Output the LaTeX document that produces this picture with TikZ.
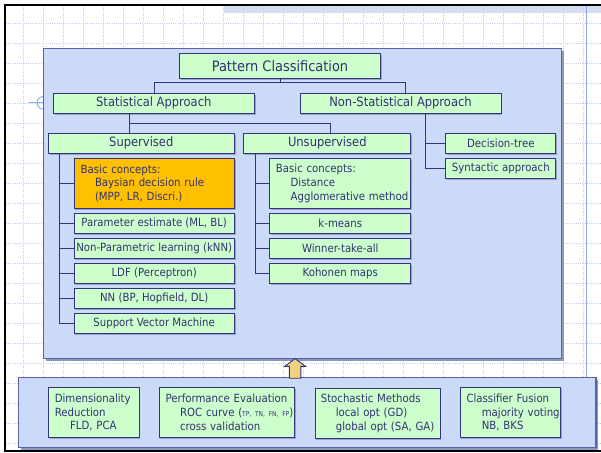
\documentclass[tikz,border=0pt]{standalone}
\usepackage{fontspec}
\setmainfont{DejaVu Sans Condensed}
\usetikzlibrary{calc,shadows}
\definecolor{navy}{RGB}{51,51,128}
\definecolor{txt}{RGB}{50,50,112}
\definecolor{panel}{RGB}{204,218,250}
\definecolor{panelborder}{RGB}{90,100,165}
\definecolor{panelshadow}{RGB}{140,150,190}
\definecolor{boxgreen}{RGB}{204,255,204}
\definecolor{orangebox}{RGB}{255,192,0}
\definecolor{gridc}{RGB}{190,204,240}
\definecolor{selblue}{RGB}{140,165,235}
\definecolor{stripc}{RGB}{214,222,242}
\definecolor{arrowfill}{RGB}{238,210,128}
\newcommand{\ind}[2][14.5pt]{\mbox{\hspace*{#1}#2}}
\tikzset{
  box/.style={draw=navy, line width=1pt, fill=boxgreen, text=txt, inner sep=0pt,
    minimum height=20pt, font=\fontsize{11.3}{13.8}\selectfont,
    drop shadow={shadow xshift=1.2pt, shadow yshift=-1.2pt, fill=panelshadow, opacity=0.8}},
  midfont/.style={font=\fontsize{12.8}{15}\selectfont},
  multibox/.style={align=left},
  conn/.style={draw=navy, line width=1pt},
  gridline/.style={draw=gridc, line width=0.6pt, dash pattern=on 1pt off 1.2pt},
  panelbox/.style={draw=panelborder, line width=1.2pt, fill=panel},
}
\begin{document}
\begin{tikzpicture}[x=1pt,y=-1pt]
\useasboundingbox (0,0) rectangle (601,452);
\fill[white] (0,0) rectangle (601,452);
% top strip
\fill[stripc] (224,6) rectangle (601,13.5);
% grid
\foreach \x in {23,43,...,583} \draw[gridline] (\x,6) -- (\x,450);
\foreach \y in {23,43,...,443} \draw[gridline] (6,\y) -- (601,\y);
\draw[selblue, line width=1pt] (586.5,6) -- (586.5,450);
% frame
\draw[black, line width=2pt] (5,452) -- (5,5) -- (601,5);
\draw[black, line width=2pt] (4,450.5) -- (601,450.5);
% selection marker
\draw[selblue, line width=0.9pt] (29,102.8) -- (43.3,102.8);
\draw[selblue, line width=0.9pt] (43.3,96.5) arc[start angle=90, end angle=270, radius=6.3pt];

% panels
\fill[panelshadow] (45.5,50.5) rectangle (563.5,360.5);
\draw[panelbox] (43.3,48.3) rectangle (561.5,358.3);
\fill[panelshadow] (20.5,380) rectangle (598,449.5);
\draw[panelbox] (18.4,377.7) rectangle (596,447.3);

% arrow
\draw[navy, line width=0.9pt, fill=arrowfill, line join=miter]
  (295,358.6) -- (305.5,366.3) -- (300.9,366.3) -- (300.9,378.2) -- (289.4,378.2)
  -- (289.4,366.3) -- (284.7,366.3) -- cycle;

% top levels
\node[box, minimum width=201.4pt, minimum height=25pt, font=\fontsize{14.4}{17}\selectfont] (pc) at (280,65.8) {Pattern Classification};
\node[box, midfont, minimum width=201pt] (sa) at (153.8,103.3) {Statistical Approach};
\node[box, midfont, minimum width=201pt] (nsa) at (400.5,103.3) {Non-Statistical Approach};
\node[box, midfont, minimum width=186pt] (sup) at (141.3,143.3) {Supervised};
\node[box, midfont, minimum width=166.7pt] (uns) at (327.3,143.3) {Unsupervised};
\node[box, minimum width=110.3pt] (dt) at (500.8,143.3) {Decision-tree};
\node[box, minimum width=110.3pt] (syn) at (500.8,168.3) {Syntactic approach};

% supervised
\node[box, fill=orangebox, minimum height=50pt, multibox, text width=147pt, inner xsep=6.7pt] (bc1) at (154.2,183.3)
  {\mbox{Basic concepts:}\\\ind[14.3pt]{Baysian decision rule}\\\ind[14.3pt]{(MPP, LR, Discri.)}};
\node[box, minimum width=160.3pt] (pe) at (154.2,223.3) {Parameter estimate (ML, BL)};
\node[box, minimum width=160.3pt] (np) at (154.2,248.3) {Non-Parametric learning (kNN)};
\node[box, minimum width=160.3pt] (ldf) at (154.2,273.3) {LDF (Perceptron)};
\node[box, minimum width=160.3pt] (nn) at (154.2,298.3) {NN (BP, Hopfield, DL)};
\node[box, minimum width=160.3pt] (svm) at (154.2,323.3) {Support Vector Machine};

% unsupervised
\node[box, minimum height=50pt, multibox, text width=128.7pt, inner xsep=6pt] (bc2) at (340.3,183.3)
  {\mbox{Basic concepts:}\\\ind[14.7pt]{Distance}\\\ind[14.7pt]{Agglomerative method}};
\node[box, minimum width=140.7pt] (km) at (340.3,223.3) {k-means};
\node[box, minimum width=140.7pt] (wta) at (340.3,248.3) {Winner-take-all};
\node[box, minimum width=140.7pt] (koh) at (340.3,273.3) {Kohonen maps};

% bottom boxes
\node[box, minimum height=49.6pt, multibox, text width=78.2pt, inner xsep=6.1pt] (dim) at (93.9,412.5)
  {\mbox{Dimensionality}\\\mbox{Reduction}\\\ind[15.3pt]{FLD, PCA}};
\node[box, minimum height=49.6pt, multibox, text width=122.6pt, inner xsep=6.6pt] (perf) at (226.9,412.5)
  {\mbox{Performance Evaluation}\\\ind[14.5pt]{ROC curve ({\fontsize{6.6}{8}\selectfont TP, TN, FN, FP})}\\\ind[14.5pt]{cross validation}};
\node[box, minimum height=50pt, multibox, text width=113.4pt, inner xsep=5.8pt] (sto) at (377.5,413.3)
  {\mbox{Stochastic Methods}\\\ind[15pt]{local opt (GD)}\\\ind[15pt]{global opt (SA, GA)}};
\node[box, minimum height=49.6pt, multibox, text width=87.7pt, inner xsep=6.5pt] (fus) at (510.35,412.5)
  {\mbox{Classifier Fusion}\\\ind[15.3pt]{majority voting}\\\ind[15.3pt]{NB, BKS}};

% connectors
\coordinate (j1) at (280,82.7);
\draw[conn] (pc.south) -- (j1);
\draw[conn] ([xshift=0.5pt]sa.north) |- (j1) -| ([xshift=5.2pt]nsa.north);
\coordinate (j2) at (129.3,123.3);
\draw[conn] ([xshift=-24.5pt]sa.south) -- ([xshift=-12pt]sup.north);
\draw[conn] (j2) -| ([xshift=2.7pt]uns.north);
\coordinate (nj) at (425.7,113.3);
\draw[conn] ([xshift=25.2pt]nsa.south) |- (syn.west);
\draw[conn] (nj |- dt.west) -- (dt.west);
\coordinate (sv) at (59,153.3);
\draw[conn] (sv) |- (svm.west);
\foreach \n in {bc1,pe,np,ldf,nn} \draw[conn] (sv |- \n.west) -- (\n.west);
\coordinate (uv) at (255,153.3);
\draw[conn] (uv) |- (koh.west);
\foreach \n in {bc2,km,wta} \draw[conn] (uv |- \n.west) -- (\n.west);
\end{tikzpicture}
\end{document}
